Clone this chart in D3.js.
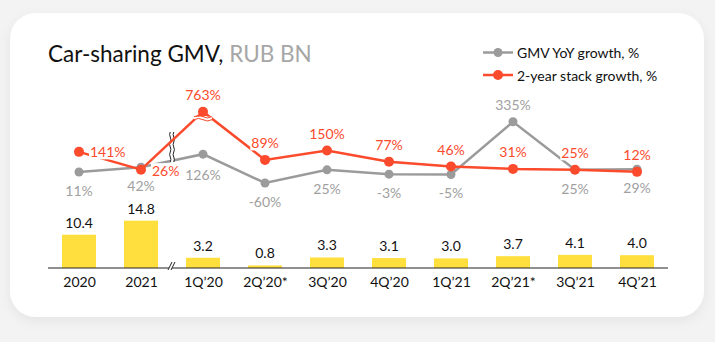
<!DOCTYPE html>
<html><head><meta charset="utf-8">
<script src="https://cdn.jsdelivr.net/npm/d3@7"></script>
<style>
html,body{margin:0;padding:0;background:#f3f3f3;}
svg{display:block;}
text{font-family:Lato,"Open Sans",sans-serif;}
</style></head>
<body>
<svg id="chart" width="715" height="342"></svg>
<script>
const categories = ["2020","2021","1Q\u201920","2Q\u201920*","3Q\u201920","4Q\u201920","1Q\u201921","2Q\u201921*","3Q\u201921","4Q\u201921"];
const gmv = [10.4,14.8,3.2,0.8,3.3,3.1,3.0,3.7,4.1,4.0];
const yoyGrowth = [11,42,126,-60,25,-3,-5,335,25,29];
const stackGrowth = [141,26,763,89,150,77,46,31,25,12];
const yoyLabelPlace = ["below","below","below","below","below","below","below","above","below","below"];
const stackLabelPlace = ["right","rightBelow","above","above","above","above","above","above","above","above"];
const legendLabels = ["GMV YoY growth, %","2-year stack growth, %"];

const RED="#fb4a2c", GRAY="#9b9b9b", YELLOW="#ffdf3e";
const svg=d3.select("#chart");
const defs=svg.append("defs");
const f=defs.append("filter").attr("id","sh").attr("x","-10%").attr("y","-10%").attr("width","120%").attr("height","130%");
f.append("feDropShadow").attr("dx",0).attr("dy",4).attr("stdDeviation",6).attr("flood-color","#000").attr("flood-opacity",0.06);

svg.append("rect").attr("x",10).attr("y",13).attr("width",694).attr("height",304).attr("rx",26).attr("fill","#fff").attr("filter","url(#sh)");

// title
const t=svg.append("text").attr("x",48).attr("y",62).attr("font-size",22.5).attr("fill","#111");
t.append("tspan").text("Car-sharing GMV, ");
t.append("tspan").attr("fill","#a6a6a6").text("RUB BN");

const x=d3.scalePoint().domain(categories).range([48,668]).padding(0.5);
const yBar=d3.scaleLinear().domain([0,15]).range([268,220]);
const yLine=d3.scaleLinear().domain([-100,400]).range([189.2,111.7]).clamp(true);
const barW=34;

// bars
svg.append("g").selectAll("rect").data(gmv).join("rect")
  .attr("x",(d,i)=>x(categories[i])-barW/2).attr("y",d=>yBar(d))
  .attr("width",barW).attr("height",d=>yBar(0)-yBar(d)).attr("fill",YELLOW);
svg.append("g").selectAll("text").data(gmv).join("text")
  .attr("x",(d,i)=>x(categories[i])).attr("y",d=>yBar(d)-7)
  .attr("text-anchor","middle").attr("font-size",14).attr("fill","#111")
  .text(d=>d.toFixed(1));

// axis
const ax=svg.append("g").attr("transform","translate(0,268)")
  .call(d3.axisBottom(x).tickSize(0).tickPadding(9));
ax.select(".domain").attr("d","M48,0H668").attr("stroke","#222").attr("stroke-width",1.2);
ax.selectAll("text").attr("font-size",14).attr("fill","#111").attr("font-family","Lato,'Open Sans',sans-serif");

// axis break
const bx=(x(categories[1])+x(categories[2]))/2;
svg.append("path").attr("d",`M${bx-4},270 L${bx},262 L${bx+3},262 L${bx-1},270Z`).attr("fill","#fff");
svg.append("path").attr("d",`M${bx-4},270 L${bx},262 M${bx-1},270 L${bx+3},262`).attr("stroke","#222").attr("stroke-width",1).attr("fill","none");

// lines
const line=d3.line().x((d,i)=>x(categories[i])).y(d=>yLine(d));
svg.append("path").datum(yoyGrowth).attr("d",line).attr("fill","none").attr("stroke",GRAY).attr("stroke-width",2.5);
svg.append("g").selectAll("circle").data(yoyGrowth).join("circle")
  .attr("cx",(d,i)=>x(categories[i])).attr("cy",d=>yLine(d)).attr("r",4.5).attr("fill",GRAY);

// vertical line break
(function(){
  const top=132,bot=162,gap=3.5;
  const wave=(xx)=>{let p=`M${xx},${top}`;const n=6;const h=(bot-top)/n;for(let k=0;k<n;k++){const s=k%2?1.3:-1.3;p+=` Q${xx+s},${top+h*k+h/2} ${xx},${top+h*(k+1)}`;}return p;};
  svg.append("rect").attr("x",bx-gap/2).attr("y",top).attr("width",gap).attr("height",bot-top).attr("fill","#fff");
  svg.append("path").attr("d",wave(bx-gap/2)+wave(bx+gap/2)).attr("fill","none").attr("stroke","#222").attr("stroke-width",1);
})();

svg.append("path").datum(stackGrowth).attr("d",line).attr("fill","none").attr("stroke",RED).attr("stroke-width",2.5);

// labels with white background
function addLabel(g,tx,ty,txt,color,anchor){
  const el=g.append("text").attr("x",tx).attr("y",ty).attr("text-anchor",anchor).attr("dominant-baseline","central")
    .attr("font-size",14).attr("fill",color).text(txt);
  const b=el.node().getBBox();
  g.insert("rect","text").attr("x",b.x-1).attr("y",b.y+1).attr("width",b.width+2).attr("height",b.height-2).attr("fill","#fff");
}
const yoyLab=svg.append("g");
yoyGrowth.forEach((d,i)=>{
  const cx=x(categories[i]),cy=yLine(d);
  const dy=yoyLabelPlace[i]==="above"?-17:(i===2?20:18.5);
  addLabel(yoyLab,cx,cy+dy,d+"%","#a0a0a0","middle");
});
const stLab=svg.append("g");
stackGrowth.forEach((d,i)=>{
  const cx=x(categories[i]),cy=yLine(d);
  const p=stackLabelPlace[i];
  if(p==="right") addLabel(stLab,cx+11,cy,d+"%",RED,"start");
  else if(p==="rightBelow") addLabel(stLab,cx+11,cy+1,d+"%",RED,"start");
  else addLabel(stLab,cx,cy-17,d+"%",RED,"middle");
});

svg.append("g").selectAll("circle").data(stackGrowth).join("circle")
  .attr("cx",(d,i)=>x(categories[i])).attr("cy",d=>yLine(d)).attr("r",5).attr("fill",RED);

// break under clamped point
stackGrowth.forEach((d,i)=>{
  if(d>yLine.domain()[1]){
    const cx=x(categories[i]),cy=yLine(d)+5;
    const w=(yy)=>`M${cx-9},${yy} Q${cx-4.5},${yy-2.5} ${cx},${yy} Q${cx+4.5},${yy+2.5} ${cx+9},${yy}`;
    svg.append("rect").attr("x",cx-9).attr("y",cy).attr("width",18).attr("height",3).attr("fill","#fff");
    svg.append("path").attr("d",w(cy)+w(cy+3)).attr("fill","none").attr("stroke",RED).attr("stroke-width",1);
  }
});

// legend
const lg=svg.append("g");
[[GRAY,52.5,4.5],[RED,75,5]].forEach(([c,yy,r],k)=>{
  lg.append("line").attr("x1",483).attr("x2",513).attr("y1",yy).attr("y2",yy).attr("stroke",c).attr("stroke-width",2.5);
  lg.append("circle").attr("cx",498).attr("cy",yy).attr("r",r).attr("fill",c);
  lg.append("text").attr("x",517).attr("y",yy).attr("dominant-baseline","central").attr("font-size",14).attr("fill","#111").text(legendLabels[k]);
});
</script>
</body></html>
